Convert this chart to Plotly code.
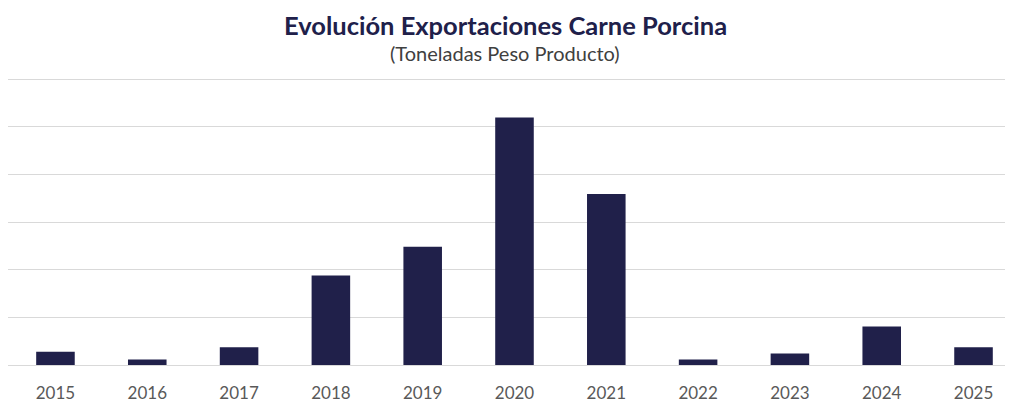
import plotly.graph_objects as go

years = ["2015", "2016", "2017", "2018", "2019", "2020", "2021", "2022", "2023", "2024", "2025"]
tonnes = [280, 115, 370, 1880, 2480, 5190, 3590, 115, 240, 810, 370]

title_text = "Evolución Exportaciones Carne Porcina"
subtitle_text = "(Toneladas Peso Producto)"

fig = go.Figure(go.Bar(
    x=list(range(len(years))), y=tonnes,
    marker=dict(color="#20204a", line=dict(width=0)),
    width=0.42,
))

fig.update_layout(
    width=1005, height=397,
    margin=dict(l=0, r=0, t=67, b=40),
    plot_bgcolor="white", paper_bgcolor="white",
    showlegend=False,
    font=dict(family="Lato, Open Sans, sans-serif"),
    xaxis=dict(
        tickmode="array", tickvals=list(range(len(years))), ticktext=years,
        range=[-0.517, 10.43], showgrid=False, zeroline=False, showline=False,
        tickfont=dict(size=17, color="#595959"), ticks="", ticklabelstandoff=16,
    ),
    yaxis=dict(
        range=[0, 6084], dtick=1000, showticklabels=False,
        gridcolor="#d9d9d9", gridwidth=1.3, zeroline=True,
        zerolinecolor="#d9d9d9", zerolinewidth=1.3, showline=False,
    ),
    annotations=[
        dict(text="<b>" + title_text + "</b>", xref="paper", yref="paper",
             x=0.495, y=1, yshift=50, yanchor="middle", showarrow=False,
             font=dict(size=25.5, color="#20204a", family="Lato, sans-serif")),
        dict(text=subtitle_text, xref="paper", yref="paper",
             x=0.495, y=1, yshift=22, yanchor="middle", showarrow=False,
             font=dict(size=20, color="#404040", family="Lato, sans-serif")),
    ],
)

fig.write_html("out.html")
